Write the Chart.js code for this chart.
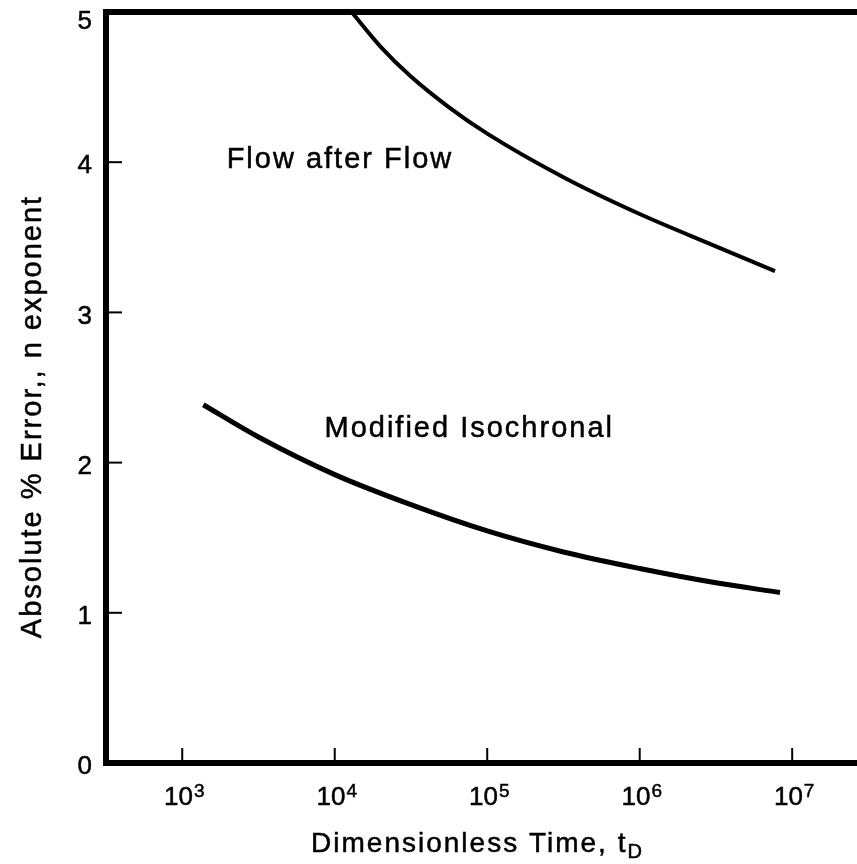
<!DOCTYPE html>
<html>
<head>
<meta charset="utf-8">
<script src="https://cdn.jsdelivr.net/npm/chart.js@4.4.1/dist/chart.umd.min.js"></script>
<style>
  html, body { margin: 0; padding: 0; background: #fff; }
  #wrap { width: 857px; height: 864px; }
</style>
</head>
<body>
<div id="wrap"><canvas id="chart" width="857" height="864"></canvas></div>
<script>
// Flow after Flow curve
const fafTime = [12900, 19950, 31600, 56200, 100000, 316000, 1000000, 3160000, 7710000];
const fafError = [5.0, 4.77, 4.57, 4.365, 4.19, 3.90, 3.655, 3.44, 3.275];

// Modified Isochronal curve
const miTime = [1374, 3160, 10000, 31600, 100000, 316000, 1000000, 3160000, 8320000];
const miError = [2.385, 2.17, 1.92, 1.72, 1.545, 1.405, 1.295, 1.20, 1.135];

const xTickValues = [1e3, 1e4, 1e5, 1e6, 1e7];
const xTickExponents = ['3', '4', '5', '6', '7'];
const yTickValues = [0, 1, 2, 3, 4, 5];

const curveLabels = [
    { text: 'Flow after Flow', x: 1955, y: 3.96 },
    { text: 'Modified Isochronal', x: 8570, y: 2.17 }
];

const xTitle = 'Dimensionless Time, t';
const xTitleSub = 'D';
const yTitle = 'Absolute % Error,, n exponent';

const FONT = '"Liberation Sans", Arial, Helvetica, sans-serif';

function toPoints(xs, ys) {
    return xs.map((x, i) => ({ x: x, y: ys[i] }));
}

// fill plus a hairline stroke, the scanned lettering is a bit heavy
function heavyText(ctx, text, x, y) {
    ctx.fillText(text, x, y);
    ctx.strokeText(text, x, y);
}

// Draws the frame, inside ticks and all the text
const figurePlugin = {
    id: 'figure',
    afterDraw(chart) {
        const ctx = chart.ctx;
        const area = chart.chartArea;
        const xs = chart.scales.x;
        const ys = chart.scales.y;

        ctx.save();
        ctx.strokeStyle = '#000';
        ctx.fillStyle = '#000';
        ctx.lineCap = 'square';

        // frame: top, left, bottom (right edge is cut off in the figure)
        ctx.lineWidth = 6;
        ctx.beginPath();
        ctx.moveTo(chart.width + 5, area.top);
        ctx.lineTo(area.left, area.top);
        ctx.lineTo(area.left, area.bottom);
        ctx.lineTo(chart.width + 5, area.bottom);
        ctx.stroke();

        // inward tick marks
        ctx.lineWidth = 2;
        ctx.lineCap = 'butt';
        xTickValues.forEach(v => {
            const px = xs.getPixelForValue(v);
            ctx.beginPath();
            ctx.moveTo(px, area.bottom);
            ctx.lineTo(px, area.bottom - 15);
            ctx.stroke();
        });
        yTickValues.slice(1, -1).forEach(v => {
            const py = ys.getPixelForValue(v);
            ctx.beginPath();
            ctx.moveTo(area.left, py);
            ctx.lineTo(area.left + 16, py);
            ctx.stroke();
        });

        ctx.lineWidth = 0.5;
        ctx.lineJoin = 'round';

        // y tick labels
        ctx.font = '26px ' + FONT;
        ctx.textAlign = 'right';
        ctx.textBaseline = 'middle';
        yTickValues.forEach(v => {
            const py = ys.getPixelForValue(v);
            heavyText(ctx, String(v), area.left - 14, Math.max(py + 4, area.top + 10));
        });

        // x tick labels: 10 with superscript exponent
        ctx.textAlign = 'left';
        ctx.textBaseline = 'alphabetic';
        xTickValues.forEach((v, i) => {
            const px = xs.getPixelForValue(v);
            ctx.font = '26px ' + FONT;
            const wBase = ctx.measureText('10').width;
            ctx.font = '19px ' + FONT;
            const wExp = ctx.measureText(xTickExponents[i]).width;
            const start = px - (wBase + 1 + wExp) / 2 + 2;
            ctx.font = '26px ' + FONT;
            heavyText(ctx, '10', start, area.bottom + 42);
            ctx.font = '19px ' + FONT;
            heavyText(ctx, xTickExponents[i], start + wBase + 1, area.bottom + 34);
        });

        // curve labels
        ctx.font = '29px ' + FONT;
        ctx.letterSpacing = '2px';
        curveLabels.forEach(l => {
            heavyText(ctx, l.text, xs.getPixelForValue(l.x), ys.getPixelForValue(l.y));
        });

        // x axis title with subscript
        ctx.font = '28px ' + FONT;
        const wMain = ctx.measureText(xTitle).width;
        ctx.font = '20px ' + FONT;
        const wSub = ctx.measureText(xTitleSub).width;
        const tx = (area.left + area.right) / 2 - 4 - (wMain + wSub) / 2;
        ctx.font = '28px ' + FONT;
        heavyText(ctx, xTitle, tx, area.bottom + 89);
        ctx.font = '20px ' + FONT;
        heavyText(ctx, xTitleSub, tx + wMain, area.bottom + 95);

        // y axis title, rotated
        ctx.font = '29px ' + FONT;
        ctx.translate(41, (area.top + area.bottom) / 2 + 29);
        ctx.rotate(-Math.PI / 2);
        ctx.textAlign = 'center';
        heavyText(ctx, yTitle, 0, 0);

        ctx.restore();
    }
};

new Chart(document.getElementById('chart'), {
    type: 'line',
    data: {
        datasets: [
            {
                label: 'Flow after Flow',
                data: toPoints(fafTime, fafError),
                borderColor: '#000',
                borderWidth: 4,
                pointRadius: 0,
                cubicInterpolationMode: 'monotone',
                fill: false
            },
            {
                label: 'Modified Isochronal',
                data: toPoints(miTime, miError),
                borderColor: '#000',
                borderWidth: 5,
                pointRadius: 0,
                cubicInterpolationMode: 'monotone',
                fill: false
            }
        ]
    },
    options: {
        responsive: false,
        animation: false,
        devicePixelRatio: 1,
        layout: { padding: { top: 12, right: 0, left: 0, bottom: 0 } },
        plugins: {
            legend: { display: false },
            tooltip: { enabled: false }
        },
        scales: {
            x: {
                type: 'logarithmic',
                min: Math.pow(10, 2.5),
                max: Math.pow(10, 7.425),
                grid: { display: false },
                border: { display: false },
                ticks: { display: false },
                afterFit: s => { s.height = 101; }
            },
            y: {
                type: 'linear',
                min: 0,
                max: 5,
                grid: { display: false },
                border: { display: false },
                ticks: { display: false },
                afterFit: s => { s.width = 106; }
            }
        }
    },
    plugins: [figurePlugin]
});
</script>
</body>
</html>
